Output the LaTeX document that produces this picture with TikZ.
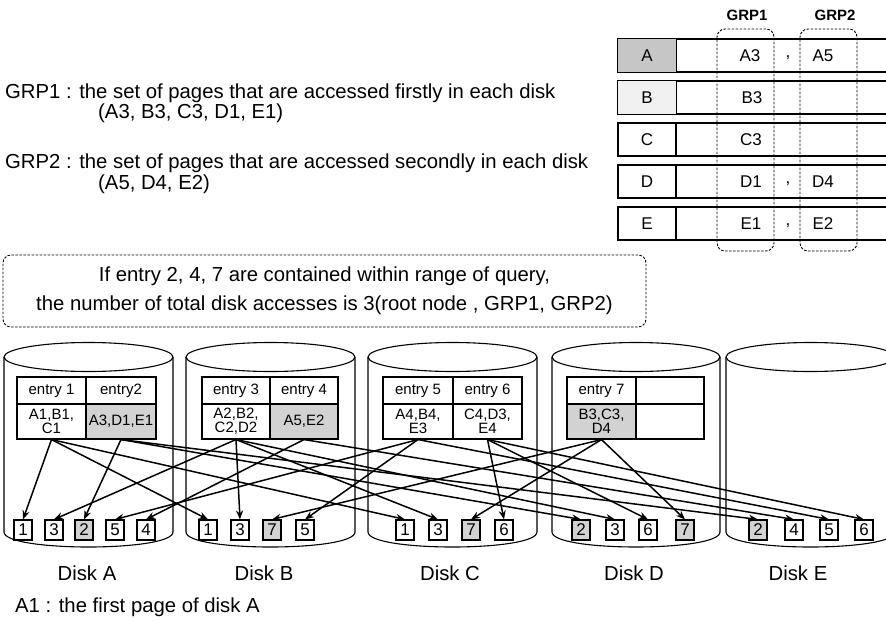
\documentclass[tikz,border=0pt]{standalone}
\usepackage{fontspec}
\setmainfont{Liberation Sans}
\usetikzlibrary{arrows.meta}

\begin{document}
\begin{tikzpicture}[x=1pt,y=-1pt,
  txt/.style={inner sep=0pt, font=\fontsize{20.3}{23}\selectfont},
  cyl/.style={line width=1.1pt},
  cell/.style={draw, line width=1.1pt, inner sep=0pt, align=center,
    font=\fontsize{15}{14}\selectfont},
  hcell/.style={cell, minimum height=27pt},
  dcell/.style={cell, minimum height=35pt},
  shaded/.style={fill=gray!35},
  page/.style={draw, line width=1.1pt, inner sep=0pt, minimum width=18pt,
    minimum height=20pt, font=\fontsize{17}{17}\selectfont},
  link/.style={-{Stealth[length=9pt,width=7pt]}, line width=1.5pt},
  trow/.style={draw, line width=1.1pt, inner sep=0pt, minimum height=33pt,
    font=\fontsize{17}{17}\selectfont},
  tval/.style={inner sep=0pt, font=\fontsize{17}{17}\selectfont},
  grpbox/.style={draw, line width=0.9pt, dash pattern=on 2.5pt off 1.5pt,
    rounded corners=8pt, minimum width=57pt, minimum height=222pt},
  grplabel/.style={inner sep=0pt, font=\fontsize{15}{15}\selectfont\bfseries},
  qbox/.style={draw, line width=0.9pt, dash pattern=on 2.5pt off 1.5pt,
    rounded corners=8pt, align=center, inner sep=0pt,
    font=\fontsize{20.3}{29}\selectfont}]

\useasboundingbox (0,0) rectangle (886,621);
\clip (0,0) rectangle (886,621);

% ---- definitions of the two groups ----
\node[txt, anchor=base west] (g1a) at (5,98) {GRP1 : the set of pages that are accessed firstly in each disk};
\node[txt, anchor=base west] (g1b) at (98,118) {(A3, B3, C3, D1, E1)};
\node[txt, anchor=base west] (g2a) at (5,168) {GRP2 : the set of pages that are accessed secondly in each disk};
\node[txt, anchor=base west] (g2b) at (98,189) {(A5, D4, E2)};

% ---- page table of the disks ----
\foreach \r/\l [count=\i from 0] in {A/A,B/B,C/C,D/D,E/E} {
  \node[trow, minimum width=58pt] (r\r) at (647,{55.5+42*\i}) {\l};
  \node[trow, minimum width=214pt, anchor=west] (s\r) at (676,{55.5+42*\i}) {};
}
\fill[gray!45] ([shift={(0.55pt,-0.55pt)}]rA.north west) rectangle ([shift={(-0.55pt,0.55pt)}]rA.south east);
\fill[gray!12] ([shift={(0.55pt,-0.55pt)}]rB.north west) rectangle ([shift={(-0.55pt,0.55pt)}]rB.south east);
\node[tval] at (rA) {A};
\node[tval] at (rB) {B};

\node[tval] (tA3) at (750,55.5) {A3};
\node[tval] (tAc) at (788,58) {,};
\node[tval] (tA5) at (823,55.5) {A5};
\node[tval] (tB3) at (752,97.5) {B3};
\node[tval] (tC3) at (751,139.5) {C3};
\node[tval] (tD1) at (751,181.5) {D1};
\node[tval] (tDc) at (788,184) {,};
\node[tval] (tD4) at (823,181.5) {D4};
\node[tval] (tE1) at (751,223.5) {E1};
\node[tval] (tEc) at (788,226) {,};
\node[tval] (tE2) at (823,223.5) {E2};

\node[grpbox] (grp1) at (745.5,140) {};
\node[grpbox] (grp2) at (828.5,140) {};
\node[grplabel] at (747,15) {GRP1};
\node[grplabel] at (835,15) {GRP2};

% ---- query note ----
\node[qbox, minimum width=643pt, minimum height=72pt] (query) at (324.5,291)
  {If entry 2, 4, 7 are contained within range of query,\\
   the number of total disk accesses is 3(root node , GRP1, GRP2)};

% ---- disks ----
\foreach \x/\w in {4/169,186/169,368/169,552/168,726/169} {
  \draw[cyl] (\x,357) -- (\x,532) .. controls (\x,552) and ({\x+\w},552) .. ({\x+\w},532) -- ({\x+\w},357);
  \draw[cyl] ({\x+\w/2},357) ellipse [x radius={\w/2}, y radius=14.5];
}
\node[txt, anchor=base] at (87,580) {Disk A};
\node[txt, anchor=base] at (264,580) {Disk B};
\node[txt, anchor=base] at (450,580) {Disk C};
\node[txt, anchor=base] at (634,580) {Disk D};
\node[txt, anchor=base] at (798,580) {Disk E};
\node[txt, anchor=base west] at (15,612) {A1 : the first page of disk A};

% ---- entries of the root node ----
\node[hcell, minimum width=69pt] (h1) at (51.5,390.5) {entry 1};
\node[hcell, minimum width=70pt] (h2) at (121,390.5) {entry2};
\node[dcell, minimum width=69pt] (e1) at (51.5,421.5) {A1,B1,\\C1};
\node[dcell, shaded, minimum width=70pt] (e2) at (121,421.5) {A3,D1,E1};

\node[hcell, minimum width=68pt] (h3) at (236,390.5) {entry 3};
\node[hcell, minimum width=68pt] (h4) at (304,390.5) {entry 4};
\node[dcell, minimum width=68pt] (e3) at (236,421.5) {A2,B2,\\C2,D2};
\node[dcell, shaded, minimum width=68pt] (e4) at (304,421.5) {A5,E2};

\node[hcell, minimum width=70pt] (h5) at (418,390.5) {entry 5};
\node[hcell, minimum width=69pt] (h6) at (487.5,390.5) {entry 6};
\node[dcell, minimum width=70pt] (e5) at (418,421.5) {A4,B4,\\E3};
\node[dcell, minimum width=69pt] (e6) at (487.5,421.5) {C4,D3,\\E4};

\node[hcell, minimum width=69pt] (h7) at (601.5,390.5) {entry 7};
\node[hcell, minimum width=68pt] (h8) at (670,390.5) {};
\node[dcell, shaded, minimum width=69pt] (e7) at (601.5,421.5) {B3,C3,\\D4};
\node[dcell, minimum width=68pt] (e8) at (670,421.5) {};

% ---- pages stored on each disk ----
\node[page] (pA1) at (23,530) {1};
\node[page] (pA3) at (54,530) {3};
\node[page, shaded] (pA2) at (84,530) {2};
\node[page] (pA5) at (115,530) {5};
\node[page] (pA4) at (146,530) {4};

\node[page] (pB1) at (208,530) {1};
\node[page] (pB3) at (240,530) {3};
\node[page, shaded] (pB7) at (272,530) {7};
\node[page] (pB5) at (305,530) {5};

\node[page] (pC1) at (405,530) {1};
\node[page] (pC3) at (438,530) {3};
\node[page, shaded] (pC7) at (471,530) {7};
\node[page] (pC6) at (504,530) {6};

\node[page, shaded] (pD2) at (581,530) {2};
\node[page] (pD3) at (615,530) {3};
\node[page] (pD6) at (648,530) {6};
\node[page, shaded] (pD7) at (685,530) {7};

\node[page, shaded] (pE2) at (758,530) {2};
\node[page] (pE4) at (794,530) {4};
\node[page] (pE5) at (829,530) {5};
\node[page] (pE6) at (864,530) {6};

% ---- pointers from entries to pages ----
\foreach \e/\p in {e1/pA1,e1/pB1,e1/pC1,
                   e2/pA2,e2/pD2,e2/pE2,
                   e3/pA3,e3/pB3,e3/pC3,e3/pD3,
                   e4/pA4,e4/pE4,
                   e5/pA5,e5/pB5,e5/pE5,
                   e6/pC6,e6/pD6,e6/pE6,
                   e7/pB7,e7/pC7,e7/pD7}
  \draw[link] (\e.south) -- (\p.north);
\end{tikzpicture}
\end{document}
